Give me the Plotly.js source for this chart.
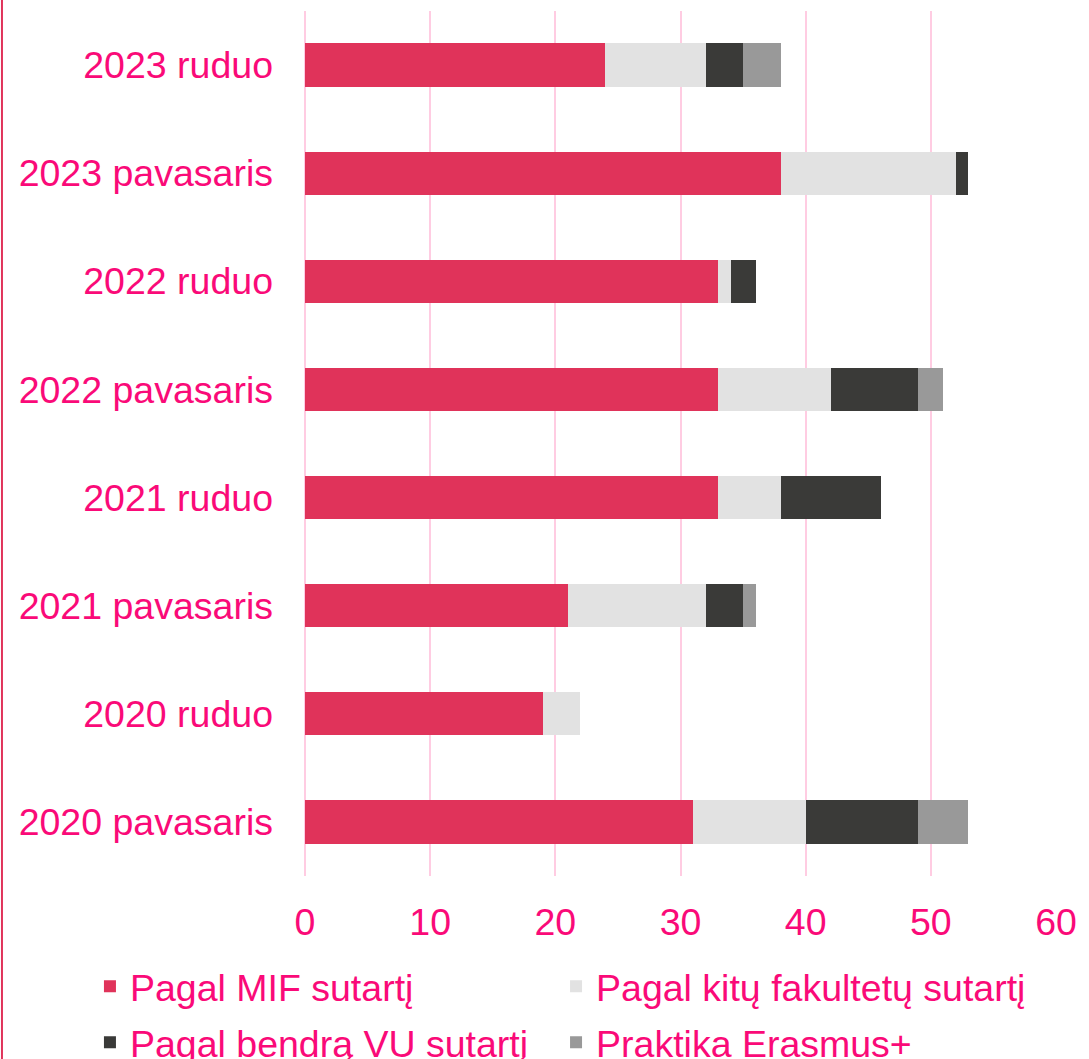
<!DOCTYPE html>
<html>
<head>
<meta charset="utf-8">
<script src="https://cdn.plot.ly/plotly-3.0.1.min.js"></script>
<style>html,body{margin:0;padding:0;background:#fff;}#chart{width:1089px;height:1059px;}</style>
</head>
<body>
<div id="chart"></div>
<script>
const categories = ["2020 pavasaris","2020 ruduo","2021 pavasaris","2021 ruduo","2022 pavasaris","2022 ruduo","2023 pavasaris","2023 ruduo"];
const seriesNames = ["Pagal MIF sutartį","Pagal kitų fakultetų sutartį","Pagal bendrą VU sutartį","Praktika Erasmus+"];
const mif      = [31, 19, 21, 33, 33, 33, 38, 24];
const kitu     = [9, 3, 11, 5, 9, 1, 14, 8];
const bendra   = [9, 0, 3, 8, 7, 2, 1, 3];
const erasmus  = [4, 0, 1, 0, 2, 0, 0, 3];
const xTicks = [0, 10, 20, 30, 40, 50, 60];

const colors = ["#E0335A", "#E2E2E2", "#3A3A38", "#999999"];
const legendIds = ["legend", "legend2", "legend3", "legend4"];
const txt = "#FA0A78";
const font = "Liberation Sans, Arial, sans-serif";
const fs = 37.5;
const seriesVals = [mif, kitu, bendra, erasmus];

const traces = seriesVals.map((vals, i) => ({
  type: "bar",
  orientation: "h",
  name: seriesNames[i],
  legend: legendIds[i],
  y: categories,
  x: vals,
  marker: {color: colors[i], line: {width: 0}},
  hoverinfo: "x+name"
}));

const legendBase = {
  orientation: "h",
  xref: "container", yref: "container",
  xanchor: "left", yanchor: "top",
  traceorder: "normal",
  font: {family: font, size: fs, color: txt},
  bgcolor: "rgba(0,0,0,0)"
};
const col1 = 0.0826, col2 = 0.5106, row1 = 0.0978, row2 = 0.045;

const layout = {
  width: 1089, height: 1059,
  margin: {l: 305, r: 33, t: 11, b: 183},
  barmode: "stack",
  bargap: 0.6,
  paper_bgcolor: "#ffffff",
  plot_bgcolor: "#ffffff",
  font: {family: font, size: fs, color: txt},
  xaxis: {
    range: [0, 60],
    tickvals: xTicks,
    ticktext: xTicks.map(String),
    showgrid: true,
    gridcolor: "#FFCCE2",
    gridwidth: 2,
    zeroline: true,
    zerolinecolor: "#FFCCE2",
    zerolinewidth: 2,
    showline: false,
    ticks: "",
    ticklabelstandoff: 20,
    tickfont: {family: font, size: fs, color: txt},
    fixedrange: true
  },
  yaxis: {
    type: "category",
    categoryorder: "array",
    categoryarray: categories,
    range: [-0.5, 7.5],
    showgrid: false,
    zeroline: false,
    showline: false,
    ticks: "",
    ticklabelstandoff: 31,
    tickfont: {family: font, size: fs, color: txt},
    fixedrange: true
  },
  showlegend: true,
  legend: Object.assign({}, legendBase, {x: col1, y: row1}),
  legend2: Object.assign({}, legendBase, {x: col2, y: row1}),
  legend3: Object.assign({}, legendBase, {x: col1, y: row2}),
  legend4: Object.assign({}, legendBase, {x: col2, y: row2}),
  shapes: [{
    type: "line", xref: "paper", yref: "paper",
    x0: -0.4035, x1: -0.4035, y0: -0.3, y1: 1.05,
    line: {color: "#E0335A", width: 2}
  }]
};

Plotly.newPlot("chart", traces, layout, {displayModeBar: false, staticPlot: true});
</script>
</body>
</html>
